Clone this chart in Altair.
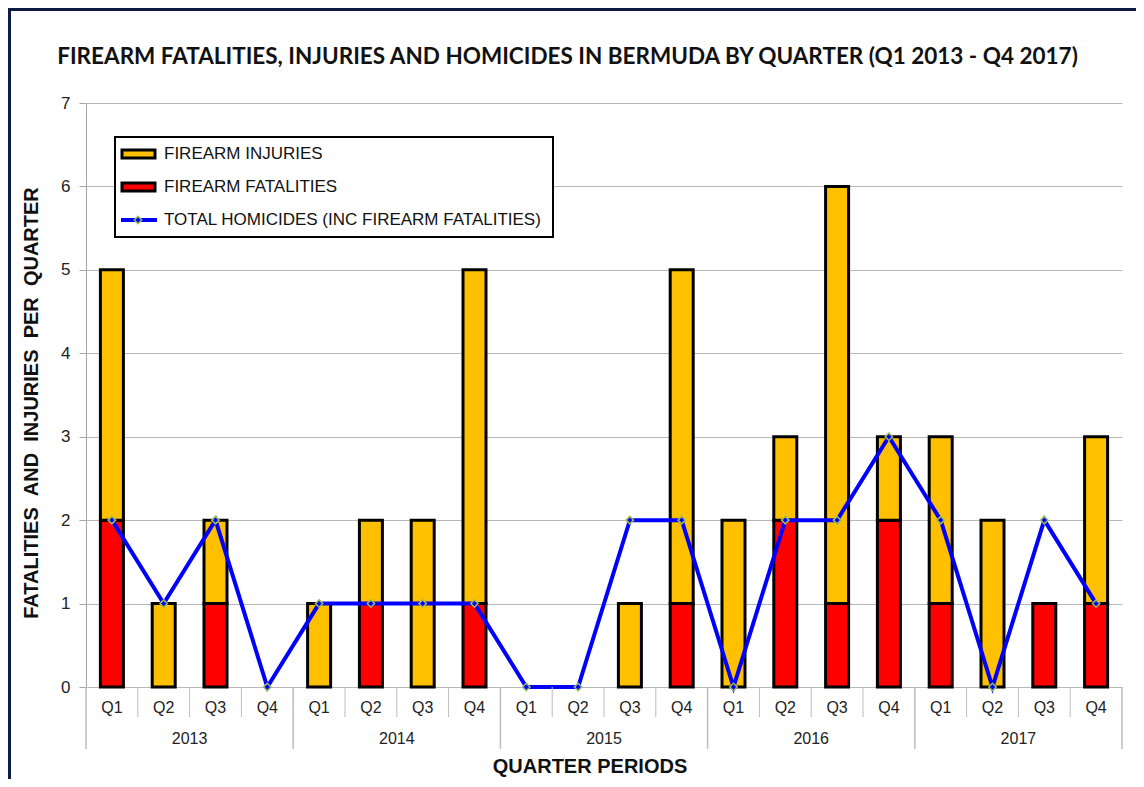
import altair as alt
import pandas as pd

quarters = ["Q1", "Q2", "Q3", "Q4"] * 5
years = ["2013"] * 4 + ["2014"] * 4 + ["2015"] * 4 + ["2016"] * 4 + ["2017"] * 4
fatalities = [2, 0, 1, 0, 0, 1, 0, 1, 0, 0, 0, 1, 0, 2, 1, 2, 1, 0, 1, 1]
injuries = [3, 1, 1, 0, 1, 1, 2, 4, 0, 0, 1, 4, 2, 1, 5, 1, 2, 2, 0, 2]
homicides = [2, 1, 2, 0, 1, 1, 1, 1, 0, 0, 2, 2, 0, 2, 2, 3, 2, 0, 2, 1]
year_labels = ["2013", "2014", "2015", "2016", "2017"]
legend_labels = ["FIREARM INJURIES", "FIREARM FATALITIES", "TOTAL HOMICIDES (INC FIREARM FATALITIES)"]

TITLE = "FIREARM FATALITIES, INJURIES AND HOMICIDES IN BERMUDA BY QUARTER (Q1 2013 - Q4 2017)"
SP = "\u00a0\u00a0"
YTITLE = SP.join(["FATALITIES", "AND", "INJURIES", "PER", "QUARTER"])
W, H = 1036, 584
FONT = "Liberation Sans"

n = len(quarters)
pos = [i + 0.5 for i in range(n)]

bars = []
for i in range(n):
    if fatalities[i] > 0:
        bars.append({"pos": pos[i], "y0": 0, "y1": fatalities[i], "series": "FIREARM FATALITIES"})
    if injuries[i] > 0:
        bars.append({"pos": pos[i], "y0": fatalities[i], "y1": fatalities[i] + injuries[i], "series": "FIREARM INJURIES"})
bars_df = pd.DataFrame(bars)
main_df = pd.DataFrame({"pos": pos, "quarter": quarters, "year": years, "hom": homicides})
year_df = pd.DataFrame({"year": year_labels, "pos": [4 * k + 2 for k in range(5)]})
qsep_df = pd.DataFrame({"b": [b for b in range(1, n) if b % 4 != 0]})
ysep_df = pd.DataFrame({"b": [b for b in range(0, n + 1, 4)]})

xs = alt.Scale(domain=[0, n], nice=False, zero=False, padding=0)
ys = alt.Scale(domain=[0, 7], nice=False)

one = pd.DataFrame({"a": [0]})

frame = alt.Chart(one).mark_rect(
    fill=None, stroke="#0c1a44", strokeWidth=3
).encode(x=alt.value(-76.5), x2=alt.value(3000), y=alt.value(-93.5), y2=alt.value(3000))

axis_layer = alt.Chart(main_df).mark_point(opacity=0).encode(
    x=alt.X("pos:Q", scale=xs, axis=None),
    y=alt.Y("hom:Q", scale=ys, axis=alt.Axis(
        values=list(range(8)), format="d", grid=True, gridColor="#b8b8b8", gridWidth=1,
        domainColor="#a6a6a6", domainWidth=1, tickColor="#a6a6a6", tickSize=7,
        labelFont=FONT, labelFontSize=17, labelColor="#222222", labelPadding=9,
        title=None)),
)

bar_layer = alt.Chart(bars_df).mark_bar(size=23, stroke="black", strokeWidth=3).encode(
    x=alt.X("pos:Q", scale=xs),
    y=alt.Y("y0:Q", scale=ys),
    y2="y1:Q",
    color=alt.Color("series:N", scale=alt.Scale(
        domain=["FIREARM INJURIES", "FIREARM FATALITIES"], range=["#FFC000", "#FF0000"]), legend=None),
)

line_layer = alt.Chart(main_df).mark_line(color="#0000FF", strokeWidth=4).encode(
    x=alt.X("pos:Q", scale=xs), y=alt.Y("hom:Q", scale=ys))
pt_layer = alt.Chart(main_df).mark_point(
    shape="diamond", filled=True, fill="#0000FF", stroke="#9BBB59", strokeWidth=1.5, size=55, opacity=1
).encode(x=alt.X("pos:Q", scale=xs), y=alt.Y("hom:Q", scale=ys))

qsep = alt.Chart(qsep_df).mark_rule(color="#bdbdbd", strokeWidth=1).encode(
    x=alt.X("b:Q", scale=xs), y=alt.value(H), y2=alt.value(H + 30))
ysep = alt.Chart(ysep_df).mark_rule(color="#bdbdbd", strokeWidth=1.5).encode(
    x=alt.X("b:Q", scale=xs), y=alt.value(H), y2=alt.value(H + 62))
qtext = alt.Chart(main_df).mark_text(font=FONT, fontSize=16, color="#222222", baseline="middle").encode(
    x=alt.X("pos:Q", scale=xs), y=alt.value(H + 21), text="quarter:N")
ytext = alt.Chart(year_df).mark_text(font=FONT, fontSize=16, color="#222222", baseline="middle").encode(
    x=alt.X("pos:Q", scale=xs), y=alt.value(H + 52), text="year:N")

title = alt.Chart(pd.DataFrame({"t": [TITLE]})).mark_text(
    font="Lato", fontWeight="bold", fontSize=22.5, color="#111111",
    baseline="middle", align="center"
).encode(x=alt.value(481.5), y=alt.value(-46), text="t:N")
ytitle = alt.Chart(pd.DataFrame({"t": [YTITLE]})).mark_text(
    font=FONT, fontWeight="bold", fontSize=20, color="#111111",
    baseline="middle", align="center", angle=270
).encode(x=alt.value(-54), y=alt.value(300), text="t:N")
xtitle = alt.Chart(pd.DataFrame({"t": ["QUARTER PERIODS"]})).mark_text(
    font=FONT, fontWeight="bold", fontSize=20, color="#111111",
    baseline="middle", align="center"
).encode(x=alt.value(504), y=alt.value(664), text="t:N")

# legend (drawn manually)
lbox = alt.Chart(one).mark_rect(fill="white", stroke="black", strokeWidth=2).encode(
    x=alt.value(29), x2=alt.value(467), y=alt.value(34), y2=alt.value(134))
sw1 = alt.Chart(one).mark_rect(fill="#FFC000", stroke="black", strokeWidth=3).encode(
    x=alt.value(36), x2=alt.value(69), y=alt.value(47), y2=alt.value(55))
sw2 = alt.Chart(one).mark_rect(fill="#FF0000", stroke="black", strokeWidth=3).encode(
    x=alt.value(36), x2=alt.value(69), y=alt.value(80), y2=alt.value(88))
lline = alt.Chart(one).mark_rule(color="#0000FF", strokeWidth=4).encode(
    x=alt.value(35), x2=alt.value(71), y=alt.value(117))
lpt = alt.Chart(one).mark_point(
    shape="diamond", filled=True, fill="#0000FF", stroke="#9BBB59", strokeWidth=1.5, size=55, opacity=1
).encode(x=alt.value(52), y=alt.value(117))
ltexts = [
    alt.Chart(pd.DataFrame({"t": [lab]})).mark_text(
        font=FONT, fontSize=17, color="#111111", align="left", baseline="middle"
    ).encode(x=alt.value(78), y=alt.value(yy), text="t:N")
    for lab, yy in zip(legend_labels, [51, 84, 117])
]

chart = alt.layer(
    frame, axis_layer, bar_layer, line_layer, pt_layer, qsep, ysep, qtext, ytext,
    title, ytitle, xtitle, lbox, sw1, sw2, lline, lpt, *ltexts
).properties(
    width=W, height=H,
    autosize=alt.AutoSizeParams(type="none"),
    padding={"left": 78, "top": 95, "right": 14, "bottom": 92},
).configure_view(stroke=None)

chart.save("out.html", embed_options={"renderer": "svg", "actions": False})
